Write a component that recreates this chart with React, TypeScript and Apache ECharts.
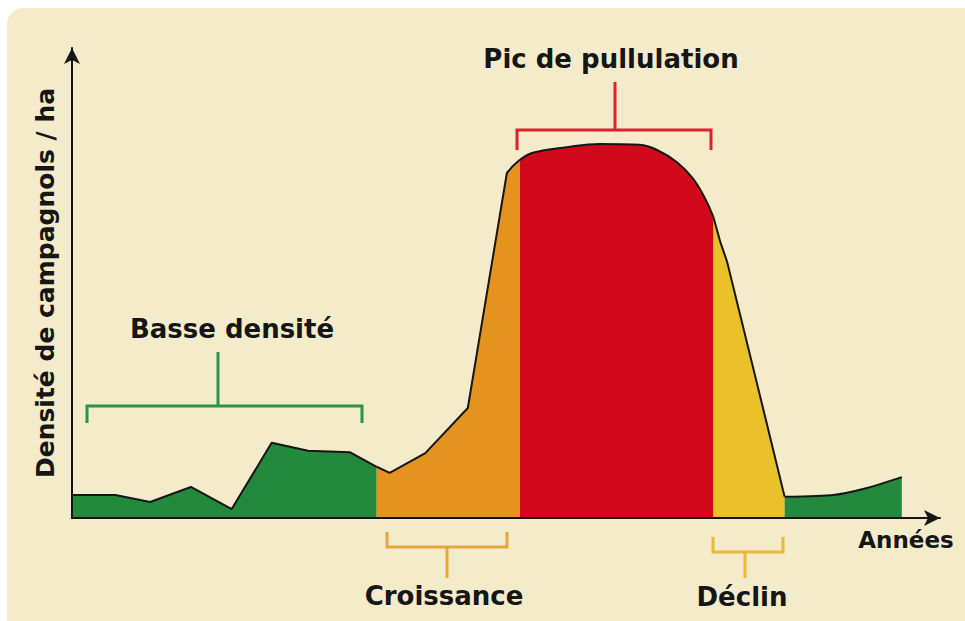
import React, { useEffect, useRef } from "react";
import * as echarts from "echarts";

// Phases of the vole population cycle (x: years, arbitrary units; y: density, arbitrary units)
const phaseNames = ["Basse densité", "Croissance", "Pic de pullulation", "Déclin", "Basse densité (reprise)"];

const basseDensite1: number[][] = [
  [0, 4.9], [5.0, 4.9], [9.0, 3.4], [13.7, 6.6], [18.4, 1.9],
  [23.0, 16.0], [27.2, 14.3], [32.0, 14.0], [35.1, 10.9],
];
const croissance: number[][] = [
  [35.1, 10.9], [36.6, 9.6], [40.7, 13.8], [45.6, 23.4], [50.1, 73.4], [50.8, 74.9], [51.6, 76.2],
];
const pic: number[][] = [
  [51.6, 76.2], [53.1, 77.7], [57.0, 78.9], [60.8, 79.6], [65.4, 79.4], [67.4, 78.3],
  [69.7, 75.7], [71.5, 72.3], [72.9, 68.1], [73.9, 64.0],
];
const declin: number[][] = [
  [73.9, 64.0], [74.7, 58.7], [75.5, 54.3], [82.1, 4.5],
];
const basseDensite2: number[][] = [
  [82.1, 4.5], [87.7, 4.9], [91.6, 6.4], [95.6, 8.7],
];

const segments = [basseDensite1, croissance, pic, declin, basseDensite2];
const fillColors = ["#23893d", "#e5931f", "#d2091a", "#ebc12a", "#23893d"];
const smoothness = [0, 0, 0.4, 0.15, 0.2];

const yAxisTitle = "Densité de campagnols / ha";
const xAxisTitle = "Années";

const FONT = "'DejaVu Sans', 'Liberation Sans', Arial, sans-serif";
const INK = "#161616";

function label(text: string, x: number, y: number, size = 26) {
  return {
    type: "text",
    x,
    y,
    z: 20,
    style: {
      text,
      fill: INK,
      font: `bold ${size}px ${FONT}`,
      align: "center",
      verticalAlign: "middle",
    },
  };
}

function bracket(points: number[][], stem: number[], color: string) {
  return [
    {
      type: "polyline",
      z: 20,
      shape: { points },
      style: { stroke: color, lineWidth: 3, fill: null },
    },
    {
      type: "line",
      z: 20,
      shape: { x1: stem[0], y1: stem[1], x2: stem[2], y2: stem[3] },
      style: { stroke: color, lineWidth: 3 },
    },
  ];
}

export default function App() {
  const ref = useRef<HTMLDivElement>(null);

  useEffect(() => {
    if (!ref.current) return;
    const chart = echarts.init(ref.current, undefined, { renderer: "svg" });

    const axisCommon = {
      type: "value",
      min: 0,
      max: 100,
      z: 5,
      axisLine: {
        show: true,
        onZero: false,
        symbol: ["none", "arrow"],
        symbolSize: [12, 16],
        lineStyle: { color: INK, width: 2 },
      },
      axisTick: { show: false },
      axisLabel: { show: false },
      splitLine: { show: false },
    };

    chart.setOption({
      animation: false,
      backgroundColor: "#ffffff",
      grid: { left: 72, top: 48, right: 25, bottom: 103 },
      xAxis: { ...axisCommon },
      yAxis: {
        ...axisCommon,
        name: yAxisTitle,
        nameLocation: "middle",
        nameRotate: 90,
        nameGap: 14,
        nameTextStyle: { fontFamily: FONT, fontWeight: "bold", fontSize: 25, color: INK },
      },
      series: segments.map((data, i) => ({
        type: "line",
        name: phaseNames[i],
        data,
        showSymbol: false,
        symbol: "none",
        smooth: smoothness[i],
        z: 2,
        lineStyle: { color: INK, width: 2 },
        areaStyle: { color: fillColors[i], opacity: 1 },
      })),
      graphic: [
        {
          type: "rect",
          z: -10,
          shape: { x: 7, y: 8, width: 975, height: 630, r: 16 },
          style: { fill: "#f3ebc9" },
        },
        label("Pic de pullulation", 611, 59),
        label("Basse densité", 232, 329),
        label("Croissance", 444, 596),
        label("Déclin", 742, 597),
        label(xAxisTitle, 906, 540, 23),
        ...bracket([[87, 423], [87, 406], [362, 406], [362, 423]], [218, 352, 218, 406], "#2e9443"),
        ...bracket([[517, 150], [517, 130], [711, 130], [711, 150]], [615, 82, 615, 130], "#d8232d"),
        ...bracket([[387, 532], [387, 547], [507, 547], [507, 532]], [447, 547, 447, 578], "#e6a63c"),
        ...bracket([[713, 537], [713, 552], [783, 552], [783, 537]], [745, 552, 745, 578], "#e8bb35"),
      ],
    });

    return () => chart.dispose();
  }, []);

  return (
    <div
      ref={ref}
      style={{ position: "absolute", left: 0, top: 0, width: 965, height: 621 }}
    />
  );
}
